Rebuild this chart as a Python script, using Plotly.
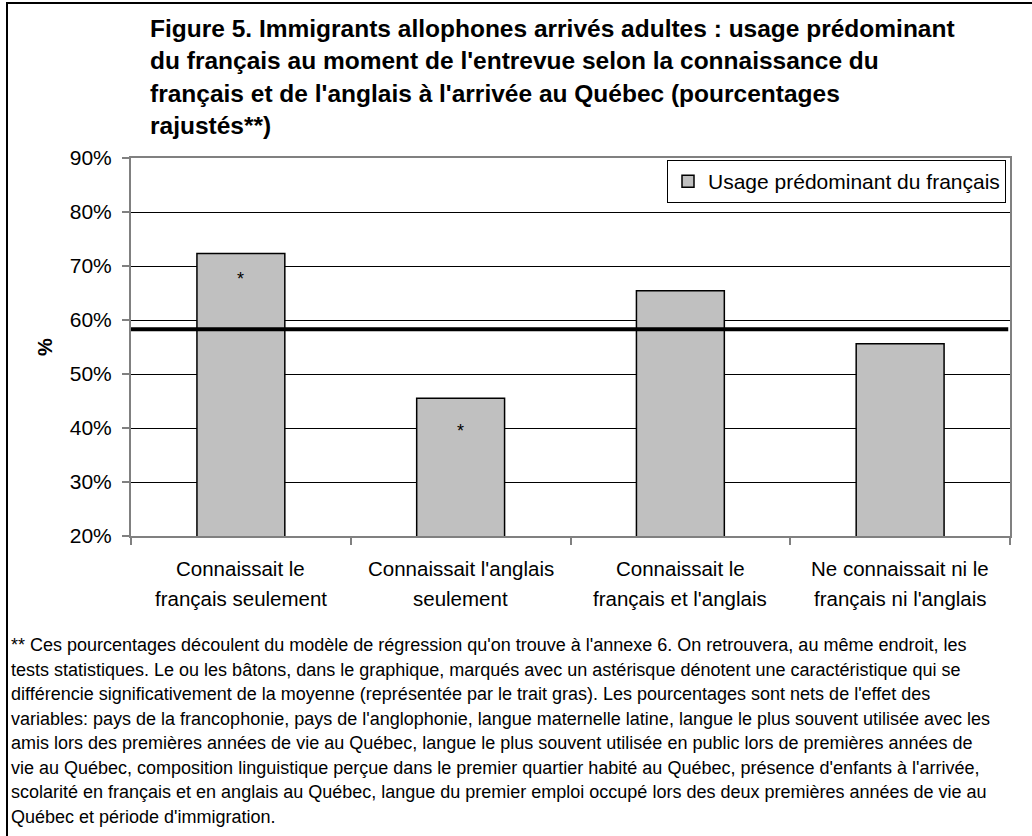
import plotly.graph_objects as go

# ---------------- data ----------------
CATEGORY_LINE1 = ["Connaissait le", "Connaissait l'anglais", "Connaissait le", "Ne connaissait ni le"]
CATEGORY_LINE2 = ["français seulement", "seulement", "français et l'anglais", "français ni l'anglais"]
VALUES = [72.3, 45.5, 65.4, 55.6]
SIGNIFICANT = [True, True, False, False]
STAR_LEVEL = [67.6, 39.5, None, None]
MEAN_VALUE = 58.3
SERIES_NAME = "Usage prédominant du français"
Y_TICKS = [20, 30, 40, 50, 60, 70, 80, 90]
Y_TICK_LABELS = ["20%", "30%", "40%", "50%", "60%", "70%", "80%", "90%"]
Y_TITLE = "%"
TITLE_LINES = [
    "Figure 5. Immigrants allophones arrivés adultes : usage prédominant",
    "du français au moment de l'entrevue selon la connaissance du",
    "français et de l'anglais à l'arrivée au Québec (pourcentages",
    "rajustés**)",
]
FOOTNOTE_LINES = [
    "** Ces pourcentages découlent du modèle de régression qu'on trouve à l'annexe 6. On retrouvera, au même endroit, les",
    "tests statistiques. Le ou les bâtons, dans le graphique, marqués avec un astérisque dénotent une caractéristique qui se",
    "différencie significativement de la moyenne (représentée par le trait gras). Les pourcentages sont nets de l'effet des",
    "variables: pays de la francophonie, pays de l'anglophonie, langue maternelle latine, langue le plus souvent utilisée avec les",
    "amis lors des premières années de vie au Québec, langue le plus souvent utilisée en public lors de premières années de",
    "vie au Québec, composition linguistique perçue dans le premier quartier habité au Québec, présence d'enfants à l'arrivée,",
    "scolarité en français et en anglais au Québec, langue du premier emploi occupé lors des deux premières années de vie au",
    "Québec et période d'immigration.",
]

# ---------------- layout geometry (pixels) ----------------
W, H = 1032, 836
L, R, T, B = 131, 1010, 158, 536
FONT = "Arial, 'Liberation Sans', sans-serif"


def px(x):
    return (x - L) / (R - L)


def py(y):
    return (B - y) / (B - T)


n = len(VALUES)
xs = list(range(n))

fig = go.Figure()
fig.add_trace(go.Bar(
    x=xs, y=VALUES, name=SERIES_NAME, width=0.4,
    marker=dict(color="#C0C0C0", line=dict(color="#000000", width=1.5)),
    showlegend=True, hoverinfo="y",
))

annotations = []
# asterisks for significant bars
for i in range(n):
    if SIGNIFICANT[i]:
        annotations.append(dict(x=xs[i], y=STAR_LEVEL[i], xref="x", yref="y", text="*",
                                showarrow=False, font=dict(family=FONT, size=18, color="#000"),
                                xanchor="center", yanchor="middle"))
# category labels (two lines)
for i in range(n):
    annotations.append(dict(x=xs[i], y=py(568), xref="x", yref="paper", text=CATEGORY_LINE1[i],
                            showarrow=False, font=dict(family=FONT, size=20.5, color="#000"),
                            xanchor="center", yanchor="middle"))
    annotations.append(dict(x=xs[i], y=py(598), xref="x", yref="paper", text=CATEGORY_LINE2[i],
                            showarrow=False, font=dict(family=FONT, size=20.5, color="#000"),
                            xanchor="center", yanchor="middle"))
# title
for k, (line, yc) in enumerate(zip(TITLE_LINES, [28, 60.5, 93, 125.5])):
    annotations.append(dict(x=px(148), y=py(yc), xref="paper", yref="paper", text="<b>%s</b>" % line,
                            showarrow=False, font=dict(family=FONT, size=24.5, color="#000"),
                            xanchor="left", yanchor="middle"))
# y title
annotations.append(dict(x=px(45), y=0.5, xref="paper", yref="paper", text="<b>%s</b>" % Y_TITLE,
                        showarrow=False, textangle=-90, font=dict(family=FONT, size=20, color="#000"),
                        xanchor="center", yanchor="middle"))
# footnote
for k, line in enumerate(FOOTNOTE_LINES):
    annotations.append(dict(x=px(9), y=py(645 + 24.5 * k), xref="paper", yref="paper", text=line,
                            showarrow=False, font=dict(family=FONT, size=18, color="#000"),
                            xanchor="left", yanchor="middle"))

shapes = [
    # mean line
    dict(type="line", xref="paper", yref="y", x0=0, x1=0.998, y0=MEAN_VALUE, y1=MEAN_VALUE,
         line=dict(color="#000000", width=4), layer="above"),
    # outer frame (left and top)
    dict(type="line", xref="paper", yref="paper", x0=px(7), x1=px(7), y0=py(3), y1=py(840),
         line=dict(color="#000000", width=2)),
    dict(type="line", xref="paper", yref="paper", x0=px(6), x1=px(1035), y0=py(3), y1=py(3),
         line=dict(color="#000000", width=2)),
]

fig.update_layout(
    width=W, height=H,
    margin=dict(l=L, r=W - R, t=T, b=H - B, pad=0),
    paper_bgcolor="white", plot_bgcolor="white",
    font=dict(family=FONT, color="#000"),
    showlegend=True,
    legend=dict(x=px(1006), y=py(160), xanchor="right", yanchor="top",
                bgcolor="white", bordercolor="#000000", borderwidth=1,
                font=dict(family=FONT, size=21, color="#000"), itemwidth=30,
                tracegroupgap=0),
    annotations=annotations,
    shapes=shapes,
    xaxis=dict(range=[-0.5, n - 0.5], tickvals=[i - 0.5 for i in range(n + 1)], showticklabels=False,
               ticks="outside", ticklen=7, tickcolor="#808080", tickwidth=1.5,
               showline=True, linecolor="#808080", linewidth=2, mirror=True,
               showgrid=False, zeroline=False, fixedrange=True),
    yaxis=dict(range=[20, 90], tickvals=Y_TICKS, ticktext=Y_TICK_LABELS,
               ticks="outside", ticklen=7, tickcolor="#808080", tickwidth=1.5,
               ticklabelstandoff=6,
               tickfont=dict(family=FONT, size=21, color="#000"),
               showline=True, linecolor="#808080", linewidth=2, mirror=True,
               showgrid=True, gridcolor="#000000", gridwidth=1, zeroline=False, fixedrange=True),
)

fig.write_html("out.html")
